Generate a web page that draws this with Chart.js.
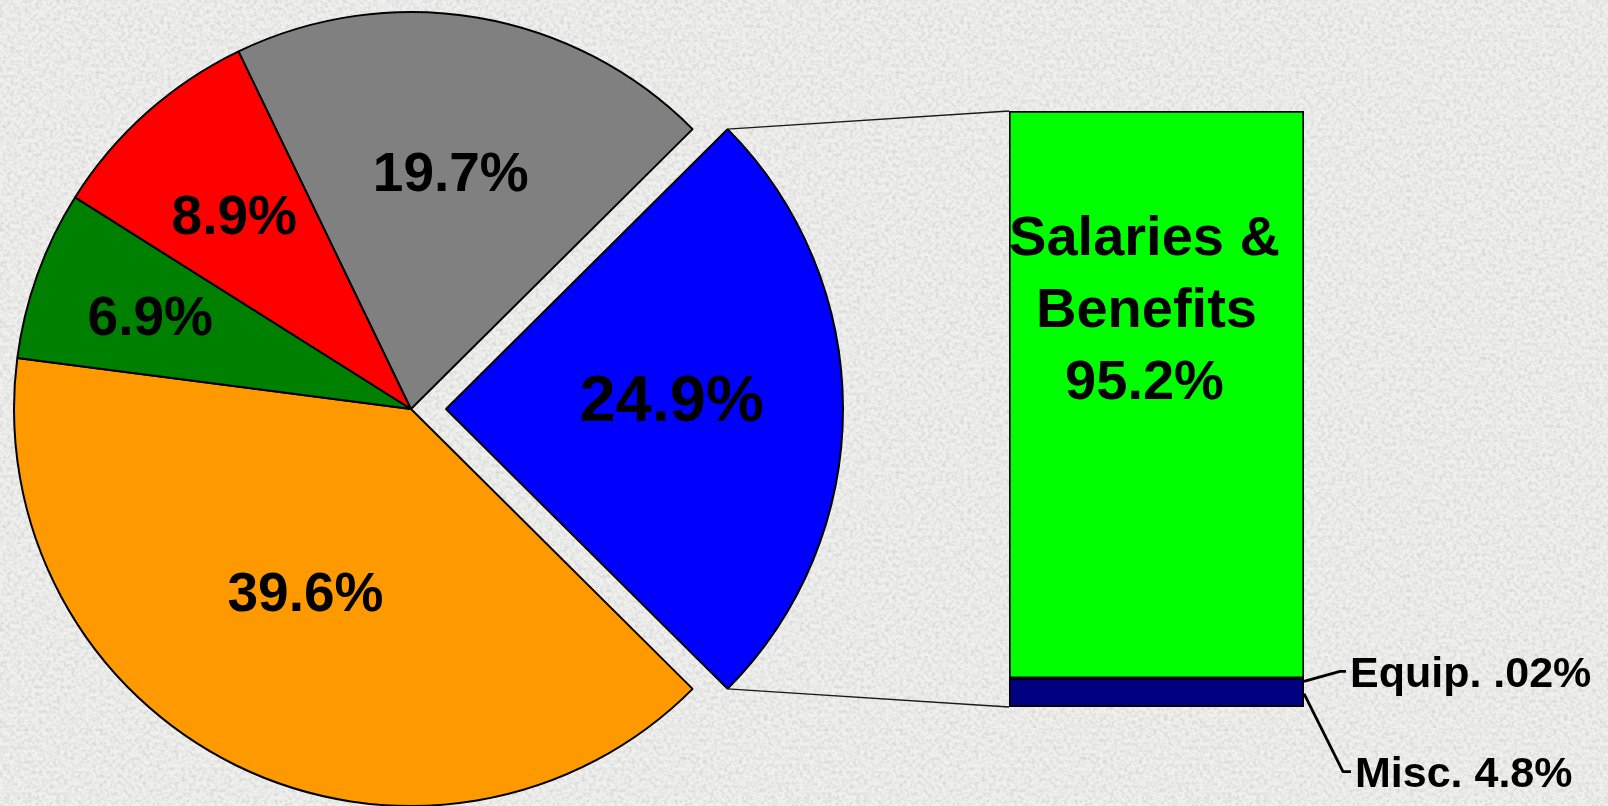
<!DOCTYPE html>
<html>
<head>
<meta charset="utf-8">
<script src="https://cdn.jsdelivr.net/npm/chart.js@4.4.1/dist/chart.umd.min.js"></script>
<style>
html, body { margin: 0; padding: 0; width: 1608px; height: 806px; overflow: hidden; }
body {
  background-color: #ececea;
  background-image: url("data:image/svg+xml;utf8,<svg xmlns='http://www.w3.org/2000/svg' width='400' height='400'><filter id='n'><feTurbulence type='fractalNoise' baseFrequency='0.28' numOctaves='3' seed='7'/><feColorMatrix type='matrix' values='0 0 0 0 0.6  0 0 0 0 0.6  0 0 0 0 0.59  1.5 0 0 0 -0.58'/></filter><rect width='100%' height='100%' fill='%23f0f0ee'/><rect width='100%' height='100%' filter='url(%23n)'/></svg>");
}
#wrap { position: relative; width: 1608px; height: 806px; }
#wrap canvas { position: absolute; left: 0; top: 0; }
</style>
</head>
<body>
<div id="wrap">
  <canvas id="pieCanvas" width="1608" height="806"></canvas>
  <canvas id="barCanvas" width="1608" height="806"></canvas>
</div>
<script>
// ---------- data ----------
const pieCategories = ['Segment A', 'Segment B', 'Segment C', 'Segment D', 'Segment E'];
const pieValues = [24.9, 39.6, 6.9, 8.9, 19.7];
const pieColors = ['#0000ff', '#ff9900', '#008000', '#ff0000', '#808080'];

const barCategories = ['Misc.', 'Equip.', 'Salaries & Benefits'];
const barValues = [4.8, 0.02, 95.2];
const barColors = ['#000080', '#000080', '#00ff00'];

// ---------- styles (layout only) ----------
const FONT = '"Liberation Sans", Arial, Helvetica, sans-serif';
const pieLabelStyle = {
  dist:  [0.569, 0.530, 0.698, 0.662, 0.606],
  nudge: [-2.9, 4.0, 0.0, -0.5, -0.2],
  size:  [65, 55, 55, 55, 55]
};
const explodeOffset = [140, 0, 0, 0, 0];

function fmtPct(v) {
  let s = String(v);
  if (v < 1) s = s.replace(/^0/, '');
  return s + '%';
}

function capBaseline(cy, size) { return cy + size * 0.358; }

// ---------- pie ----------
const pieLabelPlugin = {
  id: 'pieLabels',
  afterDatasetsDraw(chart) {
    const ctx = chart.ctx;
    const meta = chart.getDatasetMeta(0);
    ctx.save();
    ctx.fillStyle = '#000';
    ctx.textAlign = 'center';
    ctx.textBaseline = 'alphabetic';
    meta.data.forEach((arc, i) => {
      const p = arc.getProps(['x', 'y', 'startAngle', 'endAngle', 'outerRadius'], true);
      const mid = (p.startAngle + p.endAngle) / 2;
      const off = (arc.options.offset || 0) / 4;
      const cx = p.x + Math.cos(mid) * off;
      const cy = p.y + Math.sin(mid) * off;
      const a = mid + pieLabelStyle.nudge[i] * Math.PI / 180;
      const r = p.outerRadius * pieLabelStyle.dist[i];
      const lx = cx + Math.cos(a) * r;
      const ly = cy + Math.sin(a) * r;
      const size = pieLabelStyle.size[i];
      ctx.font = 'bold ' + size + 'px ' + FONT;
      ctx.fillText(fmtPct(pieValues[i]), lx, capBaseline(ly, size));
    });
    ctx.restore();
  }
};

const pieChart = new Chart(document.getElementById('pieCanvas'), {
  type: 'pie',
  data: {
    labels: pieCategories,
    datasets: [{
      data: pieValues,
      backgroundColor: pieColors,
      borderColor: '#000000',
      borderWidth: 2,
      offset: explodeOffset,
      hoverOffset: 0
    }]
  },
  options: {
    responsive: false,
    animation: false,
    events: [],
    rotation: 45.18,
    radius: 397,
    layout: { padding: { left: 0, right: 786, top: 12, bottom: 0 } },
    plugins: { legend: { display: false }, tooltip: { enabled: false } }
  },
  plugins: [pieLabelPlugin]
});

// ---------- bar ----------
const barExtrasPlugin = {
  id: 'barExtras',
  afterDraw(chart) {
    const ctx = chart.ctx;
    // connector lines from exploded pie slice to the bar
    const arc = pieChart.getDatasetMeta(0).data[0];
    const p = arc.getProps(['x', 'y', 'startAngle', 'endAngle', 'outerRadius'], true);
    const mid = (p.startAngle + p.endAngle) / 2;
    const off = (arc.options.offset || 0) / 4;
    const cx = p.x + Math.cos(mid) * off;
    const cy = p.y + Math.sin(mid) * off;
    const topPt = [cx + Math.cos(p.startAngle) * p.outerRadius, cy + Math.sin(p.startAngle) * p.outerRadius];
    const botPt = [cx + Math.cos(p.endAngle) * p.outerRadius, cy + Math.sin(p.endAngle) * p.outerRadius];

    const misc = chart.getDatasetMeta(0).data[0];
    const equip = chart.getDatasetMeta(1).data[0];
    const sal = chart.getDatasetMeta(2).data[0];
    const left = sal.x - sal.width / 2;
    const right = sal.x + sal.width / 2;

    ctx.save();
    ctx.strokeStyle = '#1a1a1a';
    ctx.lineWidth = 1.3;
    ctx.beginPath();
    ctx.moveTo(topPt[0], topPt[1]);
    ctx.lineTo(left, sal.y);
    ctx.moveTo(botPt[0], botPt[1]);
    ctx.lineTo(left, misc.base);
    ctx.stroke();

    // Salaries label inside the bar
    ctx.fillStyle = '#000';
    ctx.textAlign = 'center';
    ctx.textBaseline = 'alphabetic';
    ctx.font = 'bold 56px ' + FONT;
    const salLines = ['Salaries &', 'Benefits', fmtPct(barValues[2])];
    const salX = sal.x - 12;
    salLines.forEach((t, i) => ctx.fillText(t, salX + (i === 1 ? 2 : 0), 255 + i * 72));

    // leader lines and labels for small parts
    ctx.strokeStyle = '#000';
    ctx.lineWidth = 2.8;
    ctx.lineJoin = 'round';
    const eqY0 = equip.y + 3;
    const eqY1 = eqY0 - 10;
    ctx.beginPath();
    ctx.moveTo(right, eqY0);
    ctx.lineTo(right + 36, eqY1);
    ctx.lineTo(right + 42, eqY1);
    ctx.stroke();
    const miY0 = (misc.y + misc.base) / 2 + 1;
    const miY1 = miY0 + 78;
    ctx.beginPath();
    ctx.moveTo(right, miY0);
    ctx.lineTo(right + 39, miY1);
    ctx.lineTo(right + 47, miY1);
    ctx.stroke();

    ctx.textAlign = 'left';
    ctx.font = 'bold 43px ' + FONT;
    ctx.fillText(barCategories[1] + ' ' + fmtPct(barValues[1]), right + 46, capBaseline(eqY1, 43));
    ctx.fillText(barCategories[0] + ' ' + fmtPct(barValues[0]), right + 51, capBaseline(miY1, 43));
    ctx.restore();
  }
};

const barTotal = barValues.reduce((a, b) => a + b, 0);

new Chart(document.getElementById('barCanvas'), {
  type: 'bar',
  data: {
    labels: ['Breakdown'],
    datasets: barCategories.map((name, i) => ({
      label: name,
      data: [barValues[i]],
      backgroundColor: barColors[i],
      borderColor: '#000000',
      borderWidth: 2,
      borderSkipped: false,
      barPercentage: 1,
      categoryPercentage: 1
    }))
  },
  options: {
    responsive: false,
    animation: false,
    events: [],
    layout: { padding: { left: 1009, right: 304, top: 111, bottom: 99 } },
    scales: {
      x: { display: false, stacked: true },
      y: { display: false, stacked: true, min: 0, max: barTotal }
    },
    plugins: { legend: { display: false }, tooltip: { enabled: false } }
  },
  plugins: [barExtrasPlugin]
});
</script>
</body>
</html>
